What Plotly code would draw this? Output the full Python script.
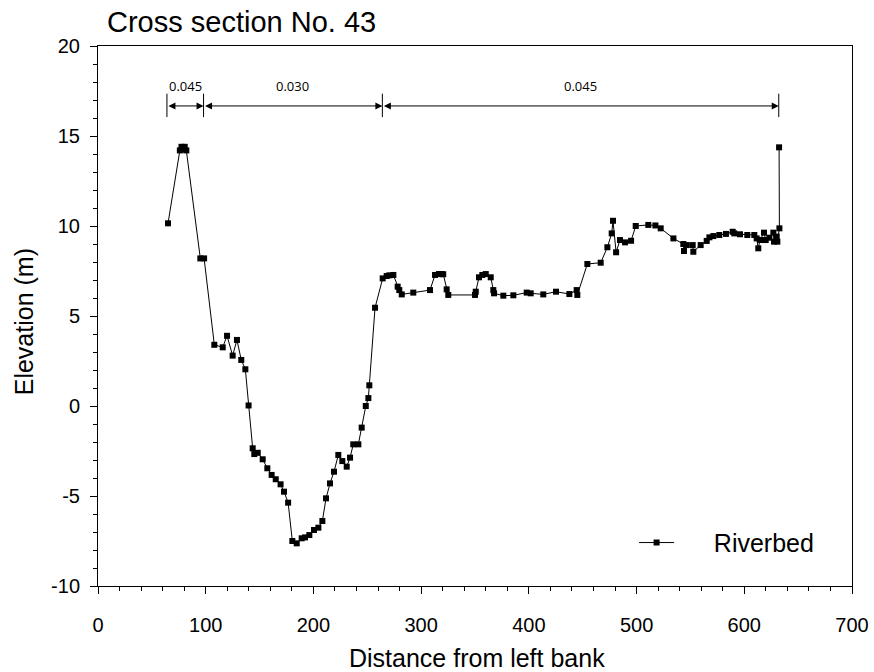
import plotly.graph_objects as go

# Riverbed cross-section data (distance from left bank, elevation)
distance = [65, 76, 77.5, 79, 80.5, 82, 95, 98.5, 108, 115.8, 119.8, 125, 129, 133, 136.8, 139.8,
            143.6, 145.1, 148.3, 152.9, 157.2, 161.2, 165, 169.5, 172.7, 176.5, 180.4, 184.5,
            189.1, 192.2, 196.2, 200.5, 204.6, 208.3, 211.7, 215.4, 219.1, 223.1, 226.8, 230.9,
            234, 237, 241.7, 244.8, 248.6, 251, 251.9, 257.2, 264.3, 268, 270.5, 274.2, 278.2,
            279.7, 282, 292.7, 308.2, 312.9, 316.5, 319, 320.5, 323.7, 325.2, 350, 350.7, 353.7,
            356.8, 360, 364.6, 367, 367.7, 376.3, 385.6, 398, 401.7, 413.4, 425.2, 437.6, 444.4,
            445, 454.3, 466.7, 472.9, 476.9, 478.1, 481, 484.6, 489.3, 494.9, 499.2, 510.9, 517.5,
            522.4, 534.2, 543.4, 544, 546.6, 552.1, 552.7, 559.5, 565.1, 567.6, 571.3, 576.8, 583,
            589.2, 590.7, 596, 602.8, 609.3, 611.5, 613, 614.6, 618.3, 619.9, 623.3, 627, 627.6,
            630.1, 630.7, 632.6, 632.3]
elevation = [10.15, 14.2, 14.4, 14.25, 14.4, 14.2, 8.2, 8.2, 3.4, 3.26, 3.9, 2.8, 3.67, 2.56, 2.04, 0.03,
             -2.35, -2.67, -2.6, -2.96, -3.46, -3.83, -4.07, -4.35, -4.76, -5.37, -7.5, -7.63,
             -7.35, -7.3, -7.17, -6.89, -6.76, -6.39, -5.13, -4.3, -3.65, -2.72, -3.06, -3.37,
             -2.87, -2.13, -2.13, -1.2, 0.0, 0.44, 1.15, 5.46, 7.09, 7.22, 7.26, 7.28, 6.63,
             6.44, 6.2, 6.3, 6.44, 7.28, 7.33, 7.33, 7.32, 6.48, 6.17, 6.17, 6.35, 7.15,
             7.28, 7.33, 7.15, 6.44, 6.26, 6.13, 6.15, 6.3, 6.26, 6.2, 6.35, 6.22, 6.44,
             6.17, 7.89, 7.96, 8.82, 9.59, 10.29, 8.54, 9.22, 9.09, 9.18, 10.0, 10.06, 10.03,
             9.87, 9.31, 9.0, 8.61, 8.94, 8.94, 8.57, 8.94, 9.17, 9.37, 9.44, 9.5, 9.56,
             9.68, 9.59, 9.54, 9.5, 9.5, 9.31, 8.76, 9.22, 9.63, 9.22, 9.35, 9.63, 9.13,
             9.41, 9.13, 9.87, 14.37]

# Axis ticks
x_ticks = [0, 100, 200, 300, 400, 500, 600, 700]
y_ticks = [-10, -5, 0, 5, 10, 15, 20]
y_tick_labels = ["-10", "-5", "0", "5", "10", "15", "20"]

# Manning roughness zones
zone_bounds = [64, 98, 264, 632]
zone_values = ["0.045", "0.030", "0.045"]
arrow_level = 16.67
bar_low, bar_high = 16.05, 17.35
label_level = 17.8

FONT = "Liberation Sans, Arial, sans-serif"

fig = go.Figure()
fig.add_trace(go.Scatter(
    x=distance, y=elevation, mode="lines+markers",
    name="\u00a0\u00a0\u00a0\u00a0\u00a0Riverbed",
    line=dict(color="black", width=1),
    marker=dict(symbol="square", size=6, color="black"),
))

# zone boundary bars
for b in zone_bounds:
    fig.add_shape(type="line", xref="x", yref="y", x0=b, x1=b, y0=bar_low, y1=bar_high,
                  line=dict(color="black", width=1))

# double-headed arrows and labels
for i, val in enumerate(zone_values):
    x0, x1 = zone_bounds[i], zone_bounds[i + 1]
    fig.add_annotation(x=x1, y=arrow_level, ax=x0, ay=arrow_level, xref="x", yref="y",
                       axref="x", ayref="y", text="", showarrow=True, arrowhead=2,
                       arrowside="end+start", arrowsize=1.4, arrowwidth=1, arrowcolor="black",
                       startarrowhead=2, startarrowsize=1.4, standoff=0, startstandoff=0)
    fig.add_annotation(x=(x0 + x1) / 2, y=label_level, xref="x", yref="y", text=val,
                       showarrow=False, font=dict(family="Open Sans, sans-serif", size=13, color="black"))

# title and axis titles
fig.add_annotation(x=0.0093, y=1.044, xref="paper", yref="paper", xanchor="left", yanchor="middle",
                   text="Cross section No. 43", showarrow=False,
                   font=dict(family=FONT, size=29, color="black"))
fig.add_annotation(x=0.503, y=-0.133, xref="paper", yref="paper", xanchor="center", yanchor="middle",
                   text="Distance from left bank", showarrow=False,
                   font=dict(family=FONT, size=25, color="black"))
fig.add_annotation(x=-0.097, y=0.49, xref="paper", yref="paper", xanchor="center", yanchor="middle",
                   text="Elevation (m)", textangle=-90, showarrow=False,
                   font=dict(family=FONT, size=25, color="black"))

fig.update_layout(
    width=874, height=672,
    margin=dict(l=98, r=22, t=46, b=86, autoexpand=False),
    paper_bgcolor="white", plot_bgcolor="white",
    font=dict(family=FONT, size=20, color="black"),
    showlegend=True,
    legend=dict(x=0.711, y=0.08, xanchor="left", yanchor="middle", bgcolor="rgba(0,0,0,0)",
                font=dict(family=FONT, size=25, color="black"), itemwidth=35),
    xaxis=dict(range=[0, 700], tickvals=x_ticks, showgrid=False, zeroline=False,
               showline=True, mirror=True, linecolor="black", linewidth=1, automargin=False,
               ticks="outside", ticklen=7, tickcolor="black", ticklabelstandoff=14,
               minor=dict(dtick=20, ticks="outside", ticklen=4, tickcolor="black", showgrid=False)),
    yaxis=dict(range=[-10, 20], tickvals=y_ticks, ticktext=y_tick_labels, showgrid=False,
               zeroline=False, automargin=False,
               showline=True, mirror=True, linecolor="black", linewidth=1,
               ticks="outside", ticklen=7, tickcolor="black", ticklabelstandoff=6,
               minor=dict(dtick=1, ticks="outside", ticklen=4, tickcolor="black", showgrid=False)),
)

fig.write_html("out.html")
